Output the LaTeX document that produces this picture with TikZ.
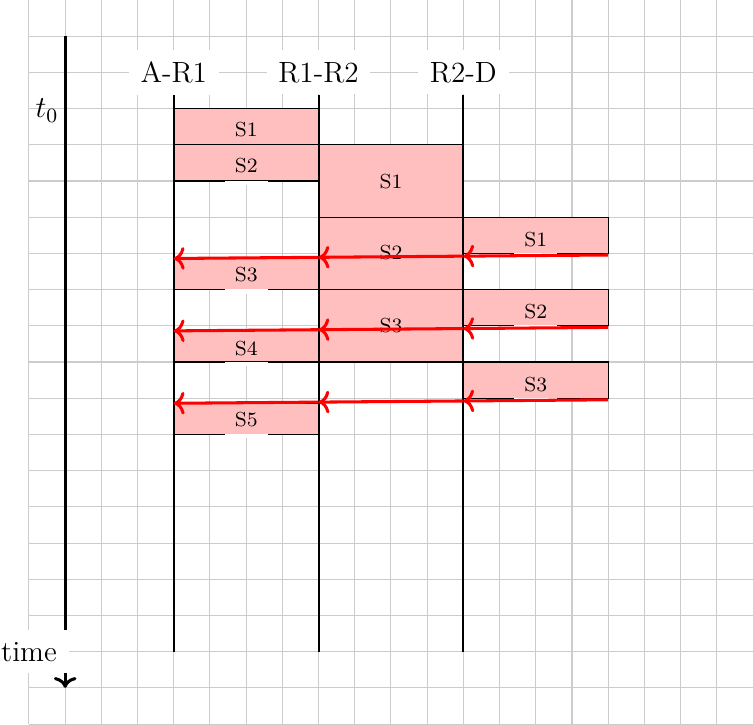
\documentclass[tikz,border=0pt]{standalone}
\usetikzlibrary{arrows.meta}
\begin{document}
\begin{tikzpicture}[
  font=\fontsize{11.5}{13.5}\selectfont,
  gridline/.style={gray!40, line width=0.4pt},
  header/.style={fill=white, inner sep=4.6pt},
  msgbox/.style={draw=black, line width=0.4pt, fill=red!25},
  msglabel/.style={font=\fontsize{8}{9.5}\selectfont, inner sep=0pt},
  patch/.style={fill=white, draw=none},
  column/.style={thick},
  ack/.style={red, very thick, -{Computer Modern Rightarrow}},
  axis/.style={very thick, -{Computer Modern Rightarrow}},
]
\useasboundingbox (-0.4,0) rectangle (10,10);
\draw[gridline] (0,0) grid[step=0.5] (10,10);

% time axis
\coordinate (axtop) at (0.5,9.5);
\coordinate (axbot) at (0.5,0.5);
\draw[axis] (axtop) -- (axbot);
\node[header] (time) at (0,1) {time};
\node (t0) at (0.25,8.47) {$t_0$};

% A-R1 column, first messages
\draw[msgbox] (2,8.5) rectangle (4,8);
\node[msglabel] (a1) at (3,8.205) {S1};
\draw[msgbox] (2,8) rectangle (4,7.5);
\fill[patch] (2.705,7.445) rectangle (3.295,7.505);
\node[msglabel] (a2) at (3,7.713) {S2};

% R1-R2 column
\draw[msgbox] (4,8) rectangle (6,7);
\node[msglabel] (b1) at (5,7.497) {S1};
\draw[msgbox] (4,7) rectangle (6,6);
\node[msglabel] (b2) at (5,6.51) {S2};
\draw[msgbox] (4,6) rectangle (6,5);
\node[msglabel] (b3) at (5,5.503) {S3};

% R2-D column
\draw[msgbox] (6,7) rectangle (8,6.5);
\fill[patch] (6.705,6.445) rectangle (7.295,6.505);
\node[msglabel] (c1) at (7,6.688) {S1};
\draw[msgbox] (6,6) rectangle (8,5.5);
\fill[patch] (6.705,5.445) rectangle (7.295,5.505);
\node[msglabel] (c2) at (7,5.695) {S2};
\draw[msgbox] (6,5) rectangle (8,4.5);
\fill[patch] (6.705,4.445) rectangle (7.295,4.505);
\node[msglabel] (c3) at (7,4.685) {S3};

% A-R1 column, later messages
\draw[msgbox] (2,6.43) rectangle (4,6);
\fill[patch] (2.705,5.945) rectangle (3.295,6.005);
\node[msglabel] (a3) at (3,6.212) {S3};
\draw[msgbox] (2,5.43) rectangle (4,5);
\fill[patch] (2.705,4.945) rectangle (3.295,5.005);
\node[msglabel] (a4) at (3,5.19) {S4};
\draw[msgbox] (2,4.43) rectangle (4,4);
\fill[patch] (2.705,3.945) rectangle (3.295,4.005);
\node[msglabel] (a5) at (3,4.2) {S5};

% column headers and lines
\node[header] (hA) at (2,9) {A-R1};
\node[header] (hB) at (4,9) {R1-R2};
\node[header] (hC) at (6,9) {R2-D};
\coordinate (bottom) at (0,1);
\draw[column] (hA) -- (hA |- bottom);
\draw[column] (hB) -- (hB |- bottom);
\draw[column] (hC) -- (hC |- bottom);

% acknowledgements
\coordinate (p1d) at (8,6.478);
\coordinate (p1c) at (6,6.462);
\coordinate (p1b) at (4,6.446);
\coordinate (p1a) at (2,6.43);
\draw[ack] (p1d) -- (p1c);
\draw[ack] (p1c) -- (p1b);
\draw[ack] (p1b) -- (p1a);

\coordinate (p2d) at (8,5.478);
\coordinate (p2c) at (6,5.462);
\coordinate (p2b) at (4,5.446);
\coordinate (p2a) at (2,5.43);
\draw[ack] (p2d) -- (p2c);
\draw[ack] (p2c) -- (p2b);
\draw[ack] (p2b) -- (p2a);

\coordinate (p3d) at (8,4.478);
\coordinate (p3c) at (6,4.462);
\coordinate (p3b) at (4,4.446);
\coordinate (p3a) at (2,4.43);
\draw[ack] (p3d) -- (p3c);
\draw[ack] (p3c) -- (p3b);
\draw[ack] (p3b) -- (p3a);
\end{tikzpicture}
\end{document}
